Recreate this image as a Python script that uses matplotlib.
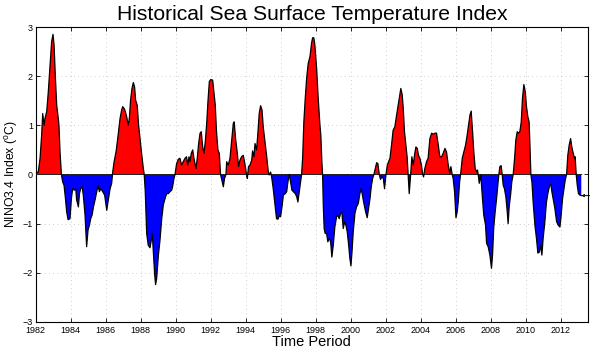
import numpy as np
import matplotlib
matplotlib.use("Agg")
import matplotlib.pyplot as plt

plt.rcParams['font.family'] = ['Liberation Sans', 'DejaVu Sans']

# Decimal years and NINO3.4 index values
years = [
    1982.00, 1982.06, 1982.15, 1982.25, 1982.34, 1982.40, 1982.48, 1982.53, 1982.63, 1982.72,
    1982.82, 1982.91, 1982.99, 1983.05, 1983.12, 1983.20, 1983.28, 1983.33, 1983.39, 1983.47,
    1983.54, 1983.62, 1983.70, 1983.77, 1983.85, 1983.96, 1984.04, 1984.11, 1984.21, 1984.29,
    1984.34, 1984.44, 1984.50, 1984.57, 1984.65, 1984.72, 1984.82, 1984.91, 1984.99, 1985.07,
    1985.14, 1985.22, 1985.30, 1985.39, 1985.49, 1985.56, 1985.64, 1985.71, 1985.83, 1985.94,
    1986.06, 1986.13, 1986.25, 1986.34, 1986.40, 1986.48, 1986.59, 1986.71, 1986.82,
    1986.91, 1986.97, 1987.06, 1987.12, 1987.20, 1987.29, 1987.35, 1987.42, 1987.50, 1987.58,
    1987.65, 1987.71, 1987.80, 1987.88, 1987.96, 1988.05, 1988.15, 1988.20, 1988.26, 1988.34,
    1988.43, 1988.53, 1988.59, 1988.66, 1988.72, 1988.80, 1988.85, 1988.91, 1989.01, 1989.10,
    1989.20, 1989.29, 1989.39, 1989.48, 1989.58, 1989.67, 1989.77, 1989.82, 1989.90, 1989.96,
    1990.05, 1990.15, 1990.24, 1990.34, 1990.43, 1990.53, 1990.62, 1990.68, 1990.76, 1990.81,
    1990.89, 1990.97, 1991.04, 1991.16, 1991.23, 1991.31, 1991.39, 1991.46, 1991.54, 1991.61,
    1991.69, 1991.77, 1991.84, 1991.92, 1992.00,
    1992.11, 1992.18, 1992.26, 1992.33, 1992.41, 1992.49, 1992.56, 1992.64, 1992.72, 1992.79,
    1992.87, 1992.91, 1993.00, 1993.10, 1993.19, 1993.29, 1993.34, 1993.42, 1993.52, 1993.59,
    1993.67, 1993.76, 1993.86, 1993.95, 1994.05, 1994.09, 1994.16, 1994.24, 1994.34, 1994.39,
    1994.47, 1994.53, 1994.62, 1994.70, 1994.77, 1994.85, 1994.93, 1995.00, 1995.10, 1995.19,
    1995.29, 1995.34, 1995.42, 1995.48, 1995.57, 1995.67, 1995.76, 1995.84, 1995.92, 1995.99,
    1996.07, 1996.15, 1996.26, 1996.34, 1996.41, 1996.49, 1996.56, 1996.64, 1996.72, 1996.83,
    1996.91, 1996.98, 1997.06,
    1997.19, 1997.25, 1997.32, 1997.40, 1997.48, 1997.57, 1997.67, 1997.76, 1997.82, 1997.89,
    1997.95, 1998.05, 1998.14, 1998.24, 1998.29, 1998.35, 1998.39, 1998.43, 1998.48, 1998.54,
    1998.62, 1998.69, 1998.77, 1998.85, 1998.92, 1999.00, 1999.09, 1999.19, 1999.27, 1999.34,
    1999.42, 1999.49, 1999.57, 1999.65, 1999.72, 1999.80, 1999.88, 1999.95, 2000.01, 2000.07,
    2000.14, 2000.24, 2000.33, 2000.43, 2000.52, 2000.60, 2000.68, 2000.75, 2000.85, 2000.94,
    2001.02, 2001.10, 2001.17, 2001.25, 2001.32, 2001.40, 2001.48, 2001.55, 2001.63, 2001.70,
    2001.78, 2001.86, 2001.93, 2002.01, 2002.09, 2002.16, 2002.24,
    2002.33, 2002.42, 2002.52, 2002.62, 2002.71, 2002.81, 2002.86, 2002.94, 2003.00, 2003.07,
    2003.15, 2003.22, 2003.30, 2003.34, 2003.42, 2003.49, 2003.57, 2003.64, 2003.72, 2003.80,
    2003.87, 2003.95, 2004.04, 2004.10, 2004.16, 2004.23, 2004.33, 2004.42, 2004.52, 2004.62,
    2004.71, 2004.81, 2004.90, 2005.00, 2005.09, 2005.19, 2005.28, 2005.38, 2005.47, 2005.57,
    2005.66, 2005.72, 2005.80, 2005.85, 2005.93, 2006.01, 2006.08, 2006.14, 2006.22, 2006.29,
    2006.37, 2006.46, 2006.56, 2006.65, 2006.73, 2006.81, 2006.88, 2006.96, 2007.03, 2007.11,
    2007.19, 2007.24, 2007.30, 2007.34, 2007.43,
    2007.51, 2007.60, 2007.70, 2007.76, 2007.85, 2007.95, 2008.04, 2008.10, 2008.17, 2008.25,
    2008.33, 2008.40, 2008.46, 2008.52, 2008.59, 2008.65, 2008.71, 2008.78, 2008.86, 2008.94,
    2008.99, 2009.05, 2009.13, 2009.20, 2009.28, 2009.36, 2009.43, 2009.51, 2009.58, 2009.66,
    2009.74, 2009.81, 2009.89, 2009.97, 2010.04, 2010.12, 2010.19, 2010.23, 2010.29, 2010.35,
    2010.42, 2010.52, 2010.61, 2010.69, 2010.77, 2010.84, 2010.92, 2010.99, 2011.09, 2011.18,
    2011.28, 2011.38, 2011.43, 2011.49, 2011.56, 2011.66, 2011.76, 2011.85, 2011.95, 2012.02,
    2012.10, 2012.18, 2012.25, 2012.33, 2012.40, 2012.48, 2012.56, 2012.63, 2012.71, 2012.78,
    2012.82, 2012.88, 2012.94, 2013.01, 2013.09, 2013.17,
]
nino34 = [
    0.20, 0.03, 0.05, 0.33, 0.80, 1.24, 1.00, 1.14, 1.28, 1.68,
    2.23, 2.70, 2.85, 2.63, 2.02, 1.41, 1.17, 1.00, 0.46, 0.00,
    -0.15, -0.22, -0.49, -0.76, -0.92, -0.90, -0.49, -0.29, -0.32, -0.29,
    -0.52, -0.66, -0.39, -0.29, -0.25, -0.42, -0.83, -1.47, -1.13, -1.03,
    -0.90, -0.83, -0.66, -0.52, -0.35, -0.22, -0.35, -0.29, -0.35, -0.42,
    -0.73, -0.56, -0.29, -0.18, 0.05, 0.26, 0.46, 0.80, 1.14,
    1.31, 1.38, 1.34, 1.28, 1.17, 1.00, 1.14, 1.51, 1.75, 1.87,
    1.78, 1.51, 1.41, 1.00, 0.73, 0.43, 0.12, 0.00, -0.35, -1.20,
    -1.44, -1.49, -1.37, -1.20, -1.58, -2.05, -2.24, -2.12, -1.64, -1.34,
    -0.90, -0.62, -0.49, -0.39, -0.39, -0.35, -0.32, -0.25, -0.08, 0.00,
    0.22, 0.31, 0.33, 0.19, 0.26, 0.33, 0.36, 0.19, 0.36, 0.26,
    0.43, 0.50, 0.33, 0.12, 0.33, 0.63, 0.84, 0.87, 0.56, 0.43,
    0.67, 1.04, 1.48, 1.89, 1.93,
    1.92, 1.68, 1.41, 0.87, 0.50, 0.43, 0.00, -0.12, -0.25, -0.08,
    0.00, 0.26, 0.19, 0.33, 0.67, 1.04, 1.07, 0.73, 0.43, 0.16,
    0.29, 0.36, 0.39, 0.22, -0.01, -0.08, 0.16, 0.19, 0.29, 0.48,
    0.36, 0.63, 0.50, 0.87, 1.24, 1.40, 1.31, 0.97, 0.67, 0.39,
    0.05, -0.01, 0.05, -0.05, -0.29, -0.62, -0.90, -0.91, -0.84, -0.86,
    -0.66, -0.42, -0.39, -0.35, -0.15, 0.00, -0.15, -0.32, -0.35, -0.39,
    -0.45, -0.56, -0.35,
    0.00, 0.33, 1.07, 1.55, 1.96, 2.26, 2.40, 2.67, 2.78, 2.78,
    2.63, 2.16, 1.55, 1.00, 0.80, 0.26, 0.00, -0.62, -1.10, -1.20,
    -1.20, -1.37, -1.30, -1.37, -1.68, -1.44, -1.07, -0.86, -0.83, -0.90,
    -0.79, -0.76, -1.10, -0.96, -1.03, -1.17, -1.44, -1.71, -1.86, -1.58,
    -1.17, -0.79, -0.66, -0.59, -0.39, -0.29, -0.45, -0.59, -0.76, -0.88,
    -0.69, -0.49, -0.25, -0.08, 0.00, 0.12, 0.24, 0.22, 0.00, -0.10,
    -0.05, -0.08, -0.29, 0.00, 0.19, 0.26, 0.33,
    0.60, 0.90, 0.97, 1.21, 1.41, 1.62, 1.75, 1.62, 1.34, 0.87,
    0.60, 0.36, -0.15, -0.39, -0.01, 0.36, 0.19, 0.39, 0.56, 0.53,
    0.39, 0.33, 0.19, 0.02, -0.05, 0.12, 0.26, 0.33, 0.73, 0.84,
    0.82, 0.84, 0.84, 0.60, 0.36, 0.36, 0.43, 0.53, 0.46, 0.19,
    0.02, 0.16, -0.01, -0.08, -0.35, -0.88, -0.76, -0.56, -0.15, 0.05,
    0.33, 0.46, 0.60, 0.80, 1.00, 1.21, 1.29, 0.87, 0.46, 0.12,
    0.05, 0.09, -0.05, -0.18, -0.01,
    -0.42, -0.83, -1.03, -1.40, -1.47, -1.64, -1.91, -1.64, -1.07, -0.76,
    -0.49, -0.22, 0.00, 0.16, 0.18, 0.00, -0.22, -0.29, -0.45, -0.76,
    -1.00, -0.66, -0.42, -0.15, 0.00, 0.33, 0.70, 0.87, 0.84, 0.87,
    1.07, 1.55, 1.83, 1.68, 1.38, 1.17, 1.07, 0.67, 0.00, -0.15,
    -0.56, -1.03, -1.30, -1.60, -1.58, -1.44, -1.64, -1.30, -0.96, -0.56,
    -0.35, -0.20, -0.20, -0.35, -0.49, -0.69, -0.96, -1.03, -1.07, -0.83,
    -0.49, -0.29, -0.12, 0.00, 0.39, 0.60, 0.73, 0.56, 0.43, 0.33,
    0.36, 0.00, -0.22, -0.39, -0.42, -0.43,
]

x_ticks = list(range(1982, 2013, 2))
y_ticks = [-3, -2, -1, 0, 1, 2, 3]
y_tick_labels = ['\u22123', '\u22122', '\u22121', '0', '1', '2', '3']

t = np.array(years)
v = np.array(nino34)

fig = plt.figure(figsize=(5.90, 3.53), dpi=100)
ax = fig.add_axes([0.0605, 0.088, 0.936, 0.8355])

ax.fill_between(t, v, 0, where=v >= 0, interpolate=True, facecolor='#ff0000',
                edgecolor='none', zorder=2)
ax.fill_between(t, v, 0, where=v <= 0, interpolate=True, facecolor='#0000ff',
                edgecolor='none', zorder=2)
ax.plot([t[0], t[-1]], [0, 0], color='#202020', lw=0.7, zorder=3)
ax.plot(t, v, color='black', lw=0.9, zorder=4)

# short marker pointing at the last value, past the right edge
ax.annotate('', xy=(t[-1], v[-1]), xytext=(2013.75, v[-1]),
            arrowprops=dict(arrowstyle='->', color='black', lw=0.7,
                            shrinkA=0, shrinkB=0, mutation_scale=4),
            annotation_clip=False, zorder=5)

ax.set_xlim(1982, 2013.55)
ax.set_ylim(-3, 3)
ax.set_xticks(x_ticks)
ax.set_xticklabels([str(x) for x in x_ticks])
ax.set_yticks(y_ticks)
ax.set_yticklabels(y_tick_labels)
ax.tick_params(direction='in', length=3, width=0.6, labelsize=6.5,
               top=True, right=True, colors='black')
ax.tick_params(axis='x', pad=3)
ax.tick_params(axis='y', pad=2)
ax.grid(True, linestyle=(0, (1, 4)), color='#bdbdbd', lw=0.6, zorder=1)
for s in ax.spines.values():
    s.set_linewidth(0.8)
    s.set_color('black')

ax.set_title('Historical Sea Surface Temperature Index', fontsize=15.2, pad=5)
ax.set_xlabel('Time Period', fontsize=10.5, labelpad=0)
ax.set_ylabel(r'NINO3.4 Index ($\mathregular{^o}$C)', fontsize=8.8, labelpad=2)

fig.savefig('out.png', dpi=100)
